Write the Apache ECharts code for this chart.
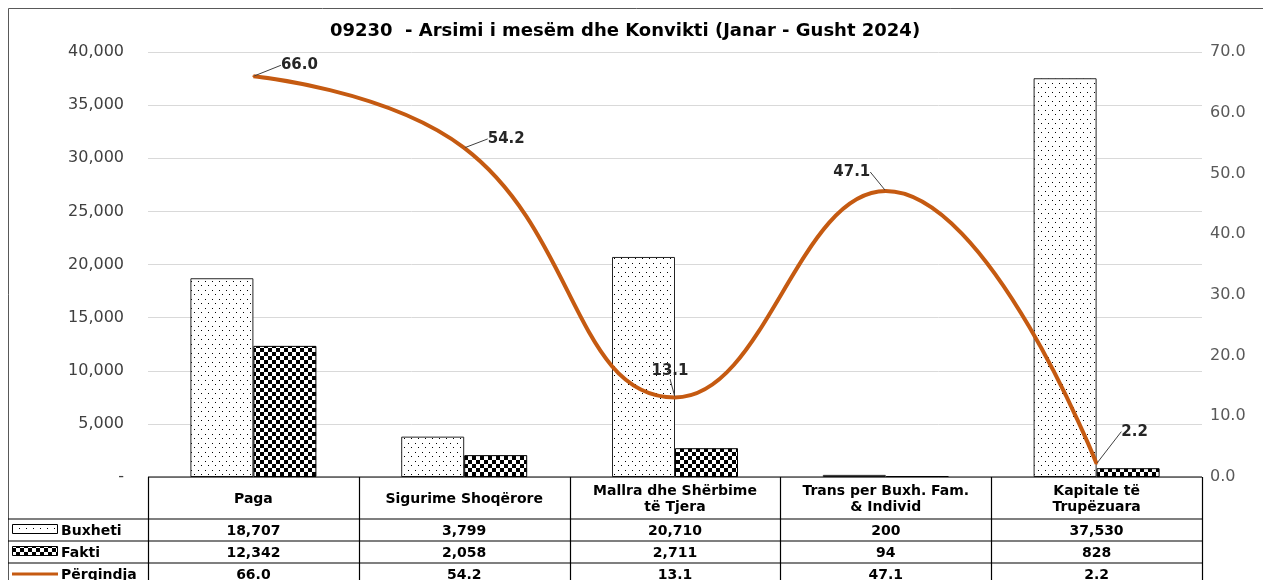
<!DOCTYPE html>
<html><head><meta charset="utf-8">
<script src="https://cdn.jsdelivr.net/npm/echarts@6/dist/echarts.min.js"></script>
<style>html,body{margin:0;padding:0;background:#fff}#c{width:1263px;height:580px}</style>
</head><body><div id="c"></div>
<script>
const categories = ['Paga', 'Sigurime Shoqërore', 'Mallra dhe Shërbime\ntë Tjera', 'Trans per Buxh. Fam.\n& Individ', 'Kapitale të\nTrupëzuara'];
const buxheti = [18707, 3799, 20710, 200, 37530];
const fakti = [12342, 2058, 2711, 94, 828];
const perqindja = [66.0, 54.2, 13.1, 47.1, 2.2];
const seriesNames = ['Buxheti', 'Fakti', 'Përqindja'];
const titleText = '09230  - Arsimi i mesëm dhe Konvikti (Janar - Gusht 2024)';

// layout
const GL = 148, GR = 1202, GT = 52, GB = 477;
const ROWS = [477, 519, 541, 563, 585];
const labelOffsets = [[46, -11], [42, -9], [-5, -26], [-34, -19], [38, -32]];
const LINE_COLOR = '#c55a11';
const FONT = 'DejaVu Sans';

function dotPattern() {
  const c = document.createElement('canvas'); c.width = 7; c.height = 9;
  const g = c.getContext('2d');
  g.fillStyle = '#fff'; g.fillRect(0, 0, 7, 9);
  g.fillStyle = '#000'; g.fillRect(2, 2, 1, 1); g.fillRect(5, 6, 1, 1);
  return c;
}
function checkPattern() {
  const c = document.createElement('canvas'); c.width = 8; c.height = 8;
  const g = c.getContext('2d');
  g.fillStyle = '#fff'; g.fillRect(0, 0, 8, 8);
  g.fillStyle = '#000'; g.fillRect(0, 0, 4, 4); g.fillRect(4, 4, 4, 4);
  return c;
}
const dotFill = { image: dotPattern(), repeat: 'repeat' };
const checkFill = { image: checkPattern(), repeat: 'repeat' };

const fmtInt = v => v.toLocaleString('en-US');
const fmt1 = v => v.toFixed(1);

const chart = echarts.init(document.getElementById('c'), null, { renderer: 'canvas' });

// table graphics
const graphics = [];
graphics.push({ type: 'rect', shape: { x: 8.5, y: 8.5, width: 1400, height: 700 }, style: { fill: 'none', stroke: '#595959', lineWidth: 1 }, z: 100 });
const colW = (GR - GL) / categories.length;
const lineStyle = { stroke: '#000', lineWidth: 1.2 };
graphics.push({ type: 'line', shape: { x1: GL, y1: ROWS[0], x2: GR, y2: ROWS[0] }, style: lineStyle, z: 100 });
for (let r = 1; r < 4; r++) {
  graphics.push({ type: 'line', shape: { x1: 8, y1: ROWS[r], x2: GR, y2: ROWS[r] }, style: lineStyle, z: 100 });
}
for (let i = 0; i <= categories.length; i++) {
  const x = Math.round(GL + i * colW) + 0.5;
  graphics.push({ type: 'line', shape: { x1: x, y1: ROWS[0], x2: x, y2: 590 }, style: lineStyle, z: 100 });
}
const TFONT = 'bold 14px "' + FONT + '"';
const rowsData = [buxheti.map(fmtInt), fakti.map(fmtInt), perqindja.map(fmt1)];
categories.forEach((cat, i) => {
  const cx = GL + (i + 0.5) * colW;
  graphics.push({ type: 'text', x: cx, y: (ROWS[0] + ROWS[1]) / 2 + 1, style: { text: cat, fill: '#000', font: TFONT, align: 'center', verticalAlign: 'middle', lineHeight: 16 }, z: 101 });
  rowsData.forEach((rd, r) => {
    graphics.push({ type: 'text', x: cx, y: (ROWS[r + 1] + ROWS[r + 2]) / 2 + 1, style: { text: rd[i], fill: '#000', font: TFONT, align: 'center', verticalAlign: 'middle' }, z: 101 });
  });
});
const keyFills = [dotFill, checkFill];
seriesNames.forEach((nm, r) => {
  const cy = (ROWS[r + 1] + ROWS[r + 2]) / 2;
  if (r < 2) {
    graphics.push({ type: 'rect', shape: { x: 12.5, y: cy - 5.5, width: 45, height: 9 }, style: { fill: keyFills[r], stroke: '#000', lineWidth: 1 }, z: 101 });
  } else {
    graphics.push({ type: 'line', shape: { x1: 12, y1: cy, x2: 58, y2: cy }, style: { stroke: LINE_COLOR, lineWidth: 3 }, z: 101 });
  }
  graphics.push({ type: 'text', x: 61, y: cy + 1, style: { text: nm, fill: '#000', font: TFONT, align: 'left', verticalAlign: 'middle' }, z: 101 });
});

chart.setOption({
  animation: false,
  backgroundColor: '#fff',
  title: {
    text: titleText, left: 620, top: 17, textAlign: 'center',
    textStyle: { fontFamily: FONT, fontWeight: 'bold', fontSize: 18, color: '#000' }
  },
  grid: { left: GL, right: 1263 - GR, top: GT, bottom: 580 - GB, containLabel: false },
  xAxis: {
    type: 'category', data: categories,
    axisLine: { show: false }, axisTick: { show: false }, axisLabel: { show: false }
  },
  yAxis: [{
    type: 'value', min: 0, max: 40000, interval: 5000,
    axisLine: { show: false }, axisTick: { show: false },
    splitLine: { lineStyle: { color: '#d9d9d9', width: 1 } },
    axisLabel: { formatter: v => v === 0 ? '-' : fmtInt(v), color: '#404040', fontFamily: FONT, fontSize: 16, margin: 24 }
  }, {
    type: 'value', min: 0, max: 70, interval: 10,
    axisLine: { show: false }, axisTick: { show: false }, splitLine: { show: false },
    axisLabel: { formatter: v => fmt1(v), color: '#595959', fontFamily: FONT, fontSize: 16, margin: 8 }
  }],
  series: [{
    name: seriesNames[0], type: 'bar', data: buxheti, barWidth: 63, barGap: '0%',
    itemStyle: { color: dotFill, borderColor: '#262626', borderWidth: 1 }
  }, {
    name: seriesNames[1], type: 'bar', data: fakti, barWidth: 63, barGap: '0%',
    itemStyle: { color: checkFill, borderColor: '#000', borderWidth: 1 }
  }, {
    name: seriesNames[2], type: 'line', yAxisIndex: 1, data: perqindja, smooth: 0.45,
    symbol: 'circle', symbolSize: 2, z: 5,
    lineStyle: { color: LINE_COLOR, width: 4 },
    itemStyle: { color: LINE_COLOR },
    label: {
      show: true, position: 'inside', formatter: p => fmt1(p.value),
      fontFamily: FONT, fontWeight: 'bold', fontSize: 15, color: '#262626'
    },
    labelLine: { show: true, lineStyle: { color: '#404040', width: 1 } },
    labelLayout: p => ({ dx: labelOffsets[p.dataIndex][0], dy: labelOffsets[p.dataIndex][1] })
  }],
  graphic: graphics
});
</script></body></html>
